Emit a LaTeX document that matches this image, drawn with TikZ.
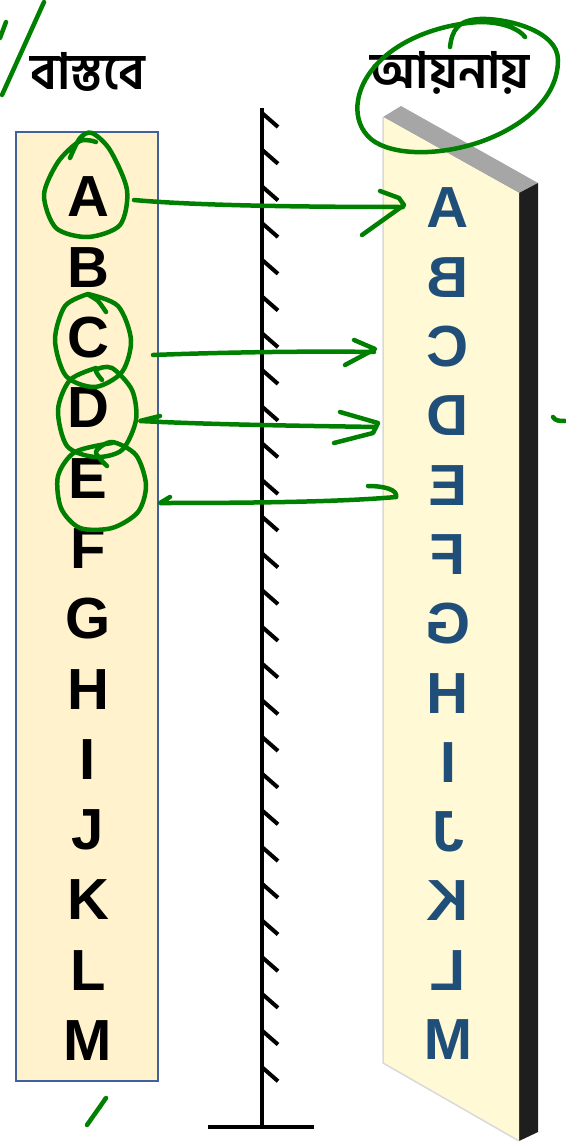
\documentclass[tikz,border=0pt]{standalone}
\usepackage{fontspec}
\setmainfont{Liberation Sans}
\newfontfamily\bnfont[Script=Bengali]{Hind Siliguri}
\definecolor{boxfill}{HTML}{FFF2CC}
\definecolor{boxedge}{HTML}{41609C}
\definecolor{slabfront}{HTML}{FFF9D6}
\definecolor{slabtop}{HTML}{A6A6A6}
\definecolor{slabside}{HTML}{1E1E1E}
\definecolor{imgblue}{HTML}{1F4E79}
\definecolor{pen}{HTML}{008000}
\tikzset{
  letter/.style={font=\fontsize{58}{58}\selectfont\bfseries, inner sep=0pt},
  objletter/.style={letter, text=black},
  imgletter/.style={letter, text=imgblue},
  heading/.style={font=\bnfont\bfseries\fontsize{50}{50}\selectfont, inner sep=0pt},
  mirrorline/.style={line width=4.5pt, black},
  hatch/.style={line width=4pt, black},
  ink/.style={pen, line width=4.5pt, line cap=round, line join=round},
}
\begin{document}
\begin{tikzpicture}[x=1pt, y=-1pt]
\useasboundingbox (0,0) rectangle (565,1145);

% object strip
\node[draw=boxedge, line width=2pt, fill=boxfill, minimum width=142pt, minimum height=949pt, inner sep=0pt]
  (strip) at (87,606.5) {};

% mirror slab seen at an angle
\fill[slabtop] (383,117) -- (401,106) -- (538,183) -- (519,193) -- cycle;
\fill[slabside] (519,193) -- (538,183) -- (538,1132) -- (519,1141) -- cycle;
\fill[slabfront] (383,117) -- (519,193) -- (519,1141) -- (383,1063) -- cycle;
\draw[black!15, line width=1.5pt] (383,117) -- (383,1063) -- (519,1141);

% plane mirror with hatching and stand
\draw[mirrorline] (262,108) -- (262,1127);
\draw[mirrorline] (208,1127) -- (314,1127);
\foreach \i in {0,...,26} {
  \pgfmathsetmacro{\yy}{113+\i*36.7}
  \draw[hatch] (262,\yy) -- (278,\yy+14);
}

% headings
\node[heading] (objtitle) at (88,72) {বাস্তবে};
\node[heading] (imgtitle) at (450,73) {আয়নায়};

% letters and their mirror images
\foreach \l [count=\k from 0] in {A,B,C,D,E,F,G,H,I,J,K,L,M} {
  \node[objletter] (o\l) at (88,197+\k*70.3) {\l};
  \node[imgletter] (m\l) at (448,208+\k*69.3) {\reflectbox{\l}};
}

% pen marks
\draw[ink] (44,2) -- (2,95);
\draw[ink] (0,38) -- (6,22);
\draw[ink] (450,47) .. controls (452,30) and (458,20) .. (480,19)
  .. controls (505,18) and (558,30) .. (558,60)
  .. controls (558,100) and (520,128) .. (480,142)
  .. controls (445,154) and (400,157) .. (375,142)
  .. controls (352,127) and (352,95) .. (372,70)
  .. controls (395,40) and (440,24) .. (480,22)
  .. controls (505,22) and (520,30) .. (525,37);
\draw[ink] plot[smooth] coordinates {(70,158) (80,138) (92,133) (110,150) (127,190) (120,225) (88,237) (56,228) (44,195) (58,162) (80,141) (96,142)};
\draw[ink] plot[smooth] coordinates {(106,312) (98,301) (88,294) (118,306) (131,340) (122,372) (95,387) (66,376) (55,340) (65,306) (88,294)};
\draw[ink] plot[smooth] coordinates {(102,380) (96,370) (112,368) (132,390) (136,420) (122,450) (95,457) (67,446) (58,410) (70,380) (96,368)};
\draw[ink] plot[smooth] coordinates {(107,466) (96,452) (112,442) (136,455) (146,485) (138,512) (112,528) (80,528) (61,508) (58,476) (75,452) (112,443)};
\draw[ink] (134,200) .. controls (200,206) and (320,207) .. (403,207);
\draw[ink] (380,191) -- (399,198) -- (404,205) -- (362,235);
\draw[ink] (153,355) .. controls (230,352) and (320,351) .. (374,352);
\draw[ink] (354,340) -- (375,349) -- (345,365);
\draw[ink] (160,416) -- (140,421) .. controls (220,425) and (320,426) .. (376,427);
\draw[ink] (340,412) -- (378,423) -- (373,433) -- (334,443);
\draw[ink] (170,497) -- (160,503) .. controls (250,503) and (340,502) .. (396,497);
\draw[ink] (368,486) .. controls (385,486) and (398,490) .. (396,497);
\draw[ink] (87,1125) -- (106,1098);
\draw[ink, line width=3pt] (100,1108) -- (105,1098);
\draw[ink] (553,417) .. controls (555,421) and (560,421) .. (565,421);
\end{tikzpicture}
\end{document}
